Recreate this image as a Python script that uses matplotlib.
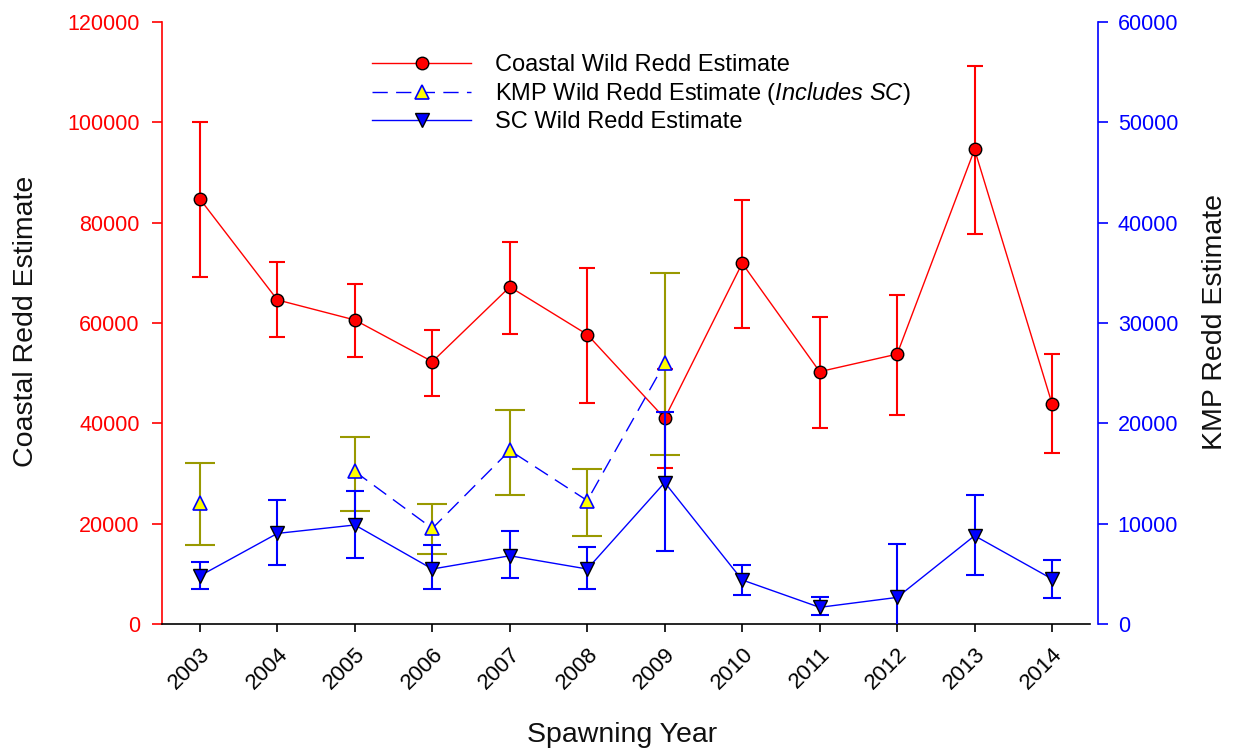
import numpy as np
import matplotlib
matplotlib.use("Agg")
import matplotlib.pyplot as plt
from matplotlib.transforms import ScaledTranslation

plt.rcParams["font.family"] = ["Liberation Sans", "DejaVu Sans"]
plt.rcParams["mathtext.fontset"] = "custom"
plt.rcParams["mathtext.rm"] = "Liberation Sans"
plt.rcParams["mathtext.it"] = "Liberation Sans:italic"

# ---------- data ----------
years = np.arange(2003, 2015)

# coastal estimate with upper / lower bounds (left axis)
coastal = np.array([84700, 64600, 60600, 52300, 67200, 57700, 41000, 71900, 50300, 53800, 94600, 43900])
coastal_hi = np.array([100000, 72200, 67800, 58600, 76100, 71000, 50900, 84500, 61200, 65600, 111200, 53900])
coastal_lo = np.array([69200, 57200, 53200, 45500, 57900, 44100, 31000, 59100, 39000, 41600, 77700, 34000])

# KMP estimate (includes SC), right axis; no survey in 2004 or after 2009
nan = np.nan
kmp = np.array([12100, nan, 15200, 9530, 17300, 12300, 26000, nan, nan, nan, nan, nan])
kmp_hi = np.array([16050, nan, 18600, 12000, 21300, 15450, 35000, nan, nan, nan, nan, nan])
kmp_lo = np.array([7840, nan, 11300, 6940, 12900, 8730, 16800, nan, nan, nan, nan, nan])

# SC estimate, right axis
sc = np.array([4800, 9030, 9870, 5480, 6800, 5480, 14100, 4390, 1660, 2650, 8800, 4490])
sc_hi = np.array([6200, 12400, 13300, 7840, 9300, 7640, 21100, 5850, 2720, 7980, 12900, 6380])
sc_lo = np.array([3450, 5850, 6600, 3450, 4550, 3450, 7250, 2920, 900, -400, 4900, 2550])

RED = "#ff0000"
BLUE = "#0000ff"
OLIVE = "#999900"

# ---------- plot ----------
fig = plt.figure(figsize=(12.39, 7.55), dpi=100)
ax = fig.add_axes([162 / 1239, 1 - 624 / 755, 928 / 1239, 602 / 755])
ax2 = ax.twinx()

# coastal series
ax.errorbar(years, coastal, yerr=[coastal - coastal_lo, coastal_hi - coastal],
            fmt="none", ecolor=RED, elinewidth=1.5, capsize=6, capthick=1.5, zorder=2)
h_coastal, = ax.plot(years, coastal, color=RED, lw=1.0, marker="o", ms=9,
                     mfc=RED, mec="black", mew=1.0, zorder=3,
                     label="Coastal Wild Redd Estimate")

# KMP series
ax2.errorbar(years, kmp, yerr=[kmp - kmp_lo, kmp_hi - kmp],
             fmt="none", ecolor=OLIVE, elinewidth=1.5, capsize=10.5, capthick=1.5, zorder=2)
h_kmp, = ax2.plot(years, kmp, color=BLUE, lw=1.0, ls=(0, (11, 6)), marker="^", ms=10,
                  mfc="#ffff00", mec=BLUE, mew=1.2, zorder=3,
                  label=r"KMP Wild Redd Estimate ($\mathit{Includes\ SC}$)")

# SC series
ax2.errorbar(years, sc, yerr=[sc - sc_lo, sc_hi - sc],
             fmt="none", ecolor=BLUE, elinewidth=1.5, capsize=6.5, capthick=1.5, zorder=4)
h_sc, = ax2.plot(years, sc, color=BLUE, lw=1.0, marker="v", ms=10.5,
                 mfc=BLUE, mec="black", mew=1.0, zorder=5,
                 label="SC Wild Redd Estimate")

# ---------- axes ----------
ax.set_xlim(2002.51, 2014.49)
ax.set_ylim(0, 120000)
ax2.set_ylim(0, 60000)
ax.set_yticks(np.arange(0, 120001, 20000))
ax2.set_yticks(np.arange(0, 60001, 10000))
ax.set_xticks(years)
ax.set_xticklabels([str(y) for y in years], rotation=45, ha="right",
                   va="top", rotation_mode="anchor")
# nudge the slanted year labels a little to the right
shift = ScaledTranslation(4 / 72, 0, fig.dpi_scale_trans)
for lbl in ax.get_xticklabels():
    lbl.set_transform(lbl.get_transform() + shift)

ax.tick_params(axis="y", colors=RED, labelcolor=RED, labelsize=15.5,
               length=7, width=1.2, pad=9, direction="out")
ax.tick_params(axis="x", labelsize=16, length=6, width=1.2, pad=8, direction="out")
ax2.tick_params(axis="y", colors=BLUE, labelcolor=BLUE, labelsize=15.5,
                length=7, width=1.2, pad=7, direction="out")

for s in ("top", "right"):
    ax.spines[s].set_visible(False)
for s in ("top", "left", "bottom"):
    ax2.spines[s].set_visible(False)
ax.spines["left"].set_color(RED)
ax.spines["left"].set_linewidth(1.2)
ax.spines["bottom"].set_linewidth(1.2)
ax2.spines["right"].set_color(BLUE)
ax2.spines["right"].set_linewidth(1.2)
ax2.spines["right"].set_position(("outward", 6))

ax.set_ylabel("Coastal Redd Estimate", fontsize=20.5, color="#111111")
ax.yaxis.set_label_coords(-0.1325, 0.502)
ax2.set_ylabel("KMP Redd Estimate", fontsize=20.5, color="#111111")
ax2.yaxis.set_label_coords(1.121, 0.502)
ax.set_xlabel("Spawning Year", fontsize=20.5, color="#111111")
ax.xaxis.set_label_coords(0.4957, -0.163)

ax2.legend(handles=[h_coastal, h_kmp, h_sc], loc="upper left",
           bbox_to_anchor=(372 / 1239, 1 - 54 / 755), bbox_transform=fig.transFigure,
           frameon=False, fontsize=17, numpoints=1, handlelength=4.2,
           handletextpad=1.0, labelspacing=0.17, borderpad=0, borderaxespad=0)

fig.savefig("out.png", dpi=100)
